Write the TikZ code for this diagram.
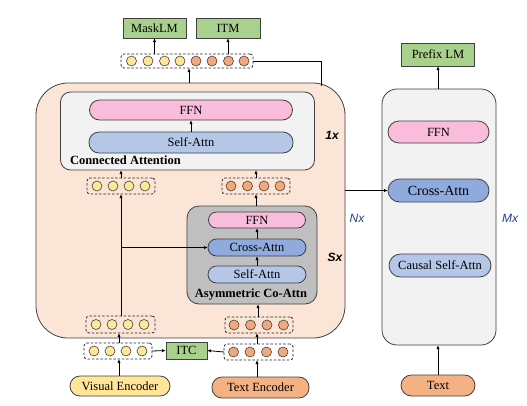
\documentclass[tikz,border=0pt]{standalone}
\usepackage{fontspec}
\setmainfont{Liberation Serif}
\newfontfamily\arialf{Liberation Sans}
\usetikzlibrary{arrows.meta,calc}
\definecolor{peach}{HTML}{FBE5D6}
\definecolor{lgray}{HTML}{F2F2F2}
\definecolor{mgray}{HTML}{BFBFBF}
\definecolor{pinkc}{HTML}{F9BDDB}
\definecolor{lblue}{HTML}{B4C7E7}
\definecolor{mblue}{HTML}{8FAADC}
\definecolor{greenc}{HTML}{A9D18E}
\definecolor{yellc}{HTML}{FFE699}
\definecolor{orc}{HTML}{F4B183}
\definecolor{otokc}{HTML}{F1A97C}
\definecolor{edgec}{HTML}{404040}
\definecolor{navy}{HTML}{203F8A}
\begin{document}
\begin{tikzpicture}[x=1pt,y=-1pt,
  every node/.style={inner sep=0pt,outer sep=0pt},
  txt/.style={font=\fontsize{12.5}{14}\selectfont},
  box/.style={draw=edgec,line width=0.8pt,txt},
  pill/.style={box,rounded corners=#1},
  grn/.style={box,fill=greenc},
  arr/.style={-{Latex[length=4pt,width=3.2pt]},line width=0.8pt,black},
  ln/.style={line width=0.8pt,black},
  tokrow/.style={draw=black!85,dashed,dash pattern=on 2.5pt off 1.8pt,line width=0.8pt,rounded corners=3pt},
  tok/.style={circle,draw=edgec,line width=0.6pt,minimum size=10pt},
  ytok/.style={tok,fill=yellc},
  otok/.style={tok,fill=otokc},
  lab/.style={font=\arialf\bfseries\itshape\fontsize{12}{14}\selectfont},
  nlab/.style={font=\arialf\itshape\fontsize{12}{14}\selectfont,text=navy}]
\useasboundingbox (0,0) rectangle (527,405);

% big peach box
\node[draw=edgec,line width=0.8pt,fill=peach,rounded corners=32pt,minimum width=309pt,minimum height=255pt] (big) at (190.5,210.5) {};

% connected attention
\node[draw=edgec,line width=0.8pt,fill=lgray,rounded corners=10pt,minimum width=254pt,minimum height=78pt] (conn) at (187.5,131) {};
\node[pill=10pt,fill=pinkc,minimum width=203pt,minimum height=20pt] (ffnA) at (191,110) {FFN};
\node[pill=10pt,fill=lblue,minimum width=204pt,minimum height=21pt] (saA) at (191,142.5) {Self-Attn};
\node[txt,font=\bfseries\fontsize{12.5}{14}\selectfont,anchor=west] (connlab) at (70,160) {Connected Attention};
\node[lab] (onex) at (332,135) {1x};

% asymmetric co-attn
\node[draw=edgec,line width=0.8pt,fill=mgray,rounded corners=12pt,minimum width=130pt,minimum height=98pt] (co) at (252,255) {};
\node[pill=8pt,fill=pinkc,minimum width=97pt,minimum height=16pt] (ffnB) at (257,220) {FFN};
\node[pill=8.5pt,fill=mblue,minimum width=98pt,minimum height=17pt] (caB) at (257,247.5) {Cross-Attn};
\node[pill=8.5pt,fill=lblue,minimum width=98pt,minimum height=17pt] (saB) at (257,274.5) {Self-Attn};
\node[txt,font=\bfseries\fontsize{12.5}{14}\selectfont] (colab) at (251,295) {Asymmetric Co-Attn};
\node[lab] (sx) at (335,257) {Sx};

% token rows
\node[tokrow,minimum width=132pt,minimum height=14pt] (top) at (187,61) {};
\foreach \x [count=\i] in {131.5,148,164.5,180} \node[ytok] (t\i) at (\x,61) {};
\foreach \x [count=\i] in {196,212,228.5,244} \node[otok] (u\i) at (\x,61) {};

\node[tokrow,minimum width=68pt,minimum height=16pt] (cL) at (121,186) {};
\foreach \x [count=\i] in {97,113,129,145} \node[ytok] (cl\i) at (\x,186) {};
\node[tokrow,minimum width=68pt,minimum height=16pt] (cR) at (256,186) {};
\foreach \x [count=\i] in {231,247.5,264,280} \node[otok] (cr\i) at (\x,186) {};

\node[tokrow,minimum width=69pt,minimum height=17pt] (iL) at (120.5,324.5) {};
\foreach \x [count=\i] in {96,112,128,144} \node[ytok] (il\i) at (\x,324.5) {};
\node[tokrow,minimum width=68pt,minimum height=16pt] (iR) at (259,325) {};
\foreach \x [count=\i] in {234,250.5,267,283.5} \node[otok] (ir\i) at (\x,325) {};

\node[tokrow,minimum width=68pt,minimum height=16pt] (oL) at (118,351) {};
\foreach \x [count=\i] in {94,110,126,142} \node[ytok] (ol\i) at (\x,351) {};
\node[tokrow,minimum width=69pt,minimum height=16pt] (oR) at (258.5,352) {};
\foreach \x [count=\i] in {233.5,250,266.5,283} \node[otok] (or\i) at (\x,352) {};

% outputs / inputs
\node[grn,minimum width=63pt,minimum height=20pt] (mlm) at (154.5,28) {MaskLM};
\node[grn,minimum width=64pt,minimum height=20pt] (itm) at (228,28) {ITM};
\node[grn,minimum width=41pt,minimum height=17pt] (itc) at (186.5,350.5) {ITC};
\node[pill=10pt,fill=yellc,minimum width=100pt,minimum height=20pt] (ve) at (120,386) {Visual Encoder};
\node[pill=10pt,fill=orc,minimum width=97pt,minimum height=21pt] (te) at (260.5,387.5) {Text Encoder};

% right decoder
\node[draw=edgec,line width=0.8pt,fill=lgray,rounded corners=15pt,minimum width=114pt,minimum height=256pt] (dec) at (439,217) {};
\node[grn,minimum width=73pt,minimum height=23pt] (plm) at (438,54.5) {Prefix LM};
\node[pill=11pt,fill=pinkc,minimum width=101pt,minimum height=22pt] (ffnC) at (438.5,132) {FFN};
\node[pill=11.5pt,fill=mblue,minimum width=101pt,minimum height=23pt,font=\fontsize{14}{16}\selectfont] (caC) at (438.5,190.5) {Cross-Attn};
\node[pill=11.5pt,fill=lblue,minimum width=102pt,minimum height=23pt] (csa) at (440,265.5) {Causal Self-Attn};
\node[pill=10.5pt,fill=orc,minimum width=74pt,minimum height=21pt] (txtin) at (438,385.5) {Text};
\node[nlab] (nx) at (357,218) {Nx};
\node[nlab] (mx) at (510,218) {Mx};

% connectors
\draw[arr] (top.north -| mlm) -- (mlm.south);
\draw[arr] (top.north -| itm) -- (itm.south);
\draw[arr] (big.north -| 189,0) -- (top.south -| 189,0);
\coordinate (bend) at (321,61);
\draw[ln] (top.east) -- (bend) -- (bend |- 0,86);
\draw[arr] (big.east |- caC) -- (caC.west);

\draw[arr] (saA.north) -- (ffnA.south);
\draw[arr] (cL.north) -- (cL.north |- conn.south);
\draw[arr] (cR.north) -- (cR.north |- conn.south);
\draw[arr] (co.north -| cR) -- (cR.south);
\draw[arr] (saB.north) -- (caB.south);
\draw[arr] (caB.north) -- (ffnB.south);
\draw[arr] (iR.north -| 258,0) -- (co.south -| 258,0);

\draw[arr] (iL.north -| cL) -- (cL.south);
\draw[arr] (iL.north -| cL) |- (caB.west);

\draw[arr] (oL.north -| 119,0) -- (iL.south -| 119,0);
\draw[arr] (oR.north -| 257,0) -- (iR.south -| 257,0);
\draw[arr] (oL.east) -- (itc.west);
\draw[arr] (oR.west) -- (itc.east);
\draw[arr] (ve.north -| 119,0) -- (oL.south -| 119,0);
\draw[arr] (te.north -| 257,0) -- (oR.south -| 257,0);

\draw[arr] (txtin.north) -- (dec.south -| txtin);
\draw[arr] (dec.north -| plm) -- (plm.south);
\end{tikzpicture}
\end{document}
